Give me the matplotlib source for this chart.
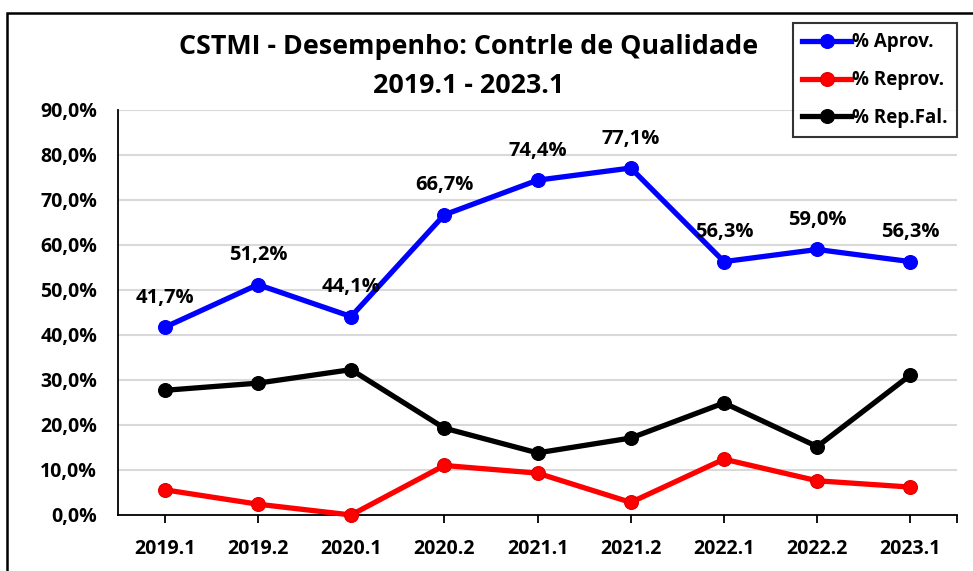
import matplotlib
matplotlib.use("Agg")
import matplotlib.pyplot as plt
from matplotlib.patches import Rectangle
import numpy as np

plt.rcParams['font.family'] = ['Open Sans', 'DejaVu Sans']
plt.rcParams['font.weight'] = 'bold'

# dados
semestres = ['2019.1', '2019.2', '2020.1', '2020.2', '2021.1', '2021.2', '2022.1', '2022.2', '2023.1']
aprov = [41.7, 51.2, 44.1, 66.7, 74.4, 77.1, 56.3, 59.0, 56.3]
reprov = [5.6, 2.4, 0.0, 11.0, 9.3, 2.8, 12.4, 7.6, 6.2]
rep_fal = [27.7, 29.3, 32.3, 19.3, 13.8, 17.1, 24.9, 15.2, 31.1]
y_ticks = [0, 10, 20, 30, 40, 50, 60, 70, 80, 90]

fig = plt.figure(figsize=(9.73, 5.71), dpi=100)
ax = fig.add_axes([0.1213, 0.0981, 0.8623, 0.7093])

# moldura externa
fig.patches.append(Rectangle((7/973, -0.1), 1.2, 1 - 13/571 + 0.1, transform=fig.transFigure,
                             fill=False, edgecolor='black', linewidth=1.8))

x = np.arange(len(semestres))
series = [(aprov, '#0000ff', '#0000ff', '% Aprov.'),
          (reprov, '#ff0000', '#e00000', '% Reprov.'),
          (rep_fal, '#000000', '#000000', '% Rep.Fal.')]
for vals, cor, borda, nome in series:
    ax.plot(x, vals, color=cor, linewidth=3.8, marker='o', markersize=10,
            markerfacecolor=cor, markeredgecolor=borda, markeredgewidth=0.8,
            label=nome, zorder=3, clip_on=False)

for xi, v in zip(x, aprov):
    ax.annotate(('%.1f%%' % v).replace('.', ','), (xi, v), xytext=(0, 14),
                textcoords='offset points', ha='center', va='bottom',
                fontsize=14.5, fontweight='bold')

ax.set_xlim(-0.5, len(semestres) - 0.5)
ax.set_ylim(0, 90)
ax.set_yticks(y_ticks)
ax.set_yticklabels([('%.1f%%' % t).replace('.', ',') for t in y_ticks])
ax.set_xticks(x)
ax.set_xticklabels(semestres)
ax.set_xticks([len(semestres) - 0.5], minor=True)
ax.tick_params(axis='y', length=0, pad=15, labelsize=14)
ax.tick_params(axis='x', which='both', length=6, width=1.3, direction='out', pad=11, labelsize=14)
for lbl in ax.get_xticklabels() + ax.get_yticklabels():
    lbl.set_fontweight('bold')

ax.grid(axis='y', color='#d9d9d9', linewidth=1.5, zorder=0)
ax.set_axisbelow(True)
for s in ['top', 'right']:
    ax.spines[s].set_visible(False)
ax.spines['left'].set_linewidth(1.3)
ax.spines['bottom'].set_linewidth(1.3)

fig.text(0.482, 1 - 47/571, 'CSTMI - Desempenho: Contrle de Qualidade', ha='center', va='center',
         fontsize=19.4, fontweight='bold')
fig.text(0.482, 1 - 86/571, '2019.1 - 2023.1', ha='center', va='center',
         fontsize=19.4, fontweight='bold')

leg = fig.legend(loc='upper left', bbox_to_anchor=(793/973, 1 - 23/571),
                 frameon=True, fancybox=False, handlelength=2.6, handletextpad=0.05,
                 borderpad=0.5, labelspacing=0.95, borderaxespad=0,
                 prop={'weight': 'bold', 'size': 13.5})
leg.get_frame().set_edgecolor('black')
leg.get_frame().set_linewidth(1.5)

fig.savefig('out.png', dpi=100, facecolor='white')
